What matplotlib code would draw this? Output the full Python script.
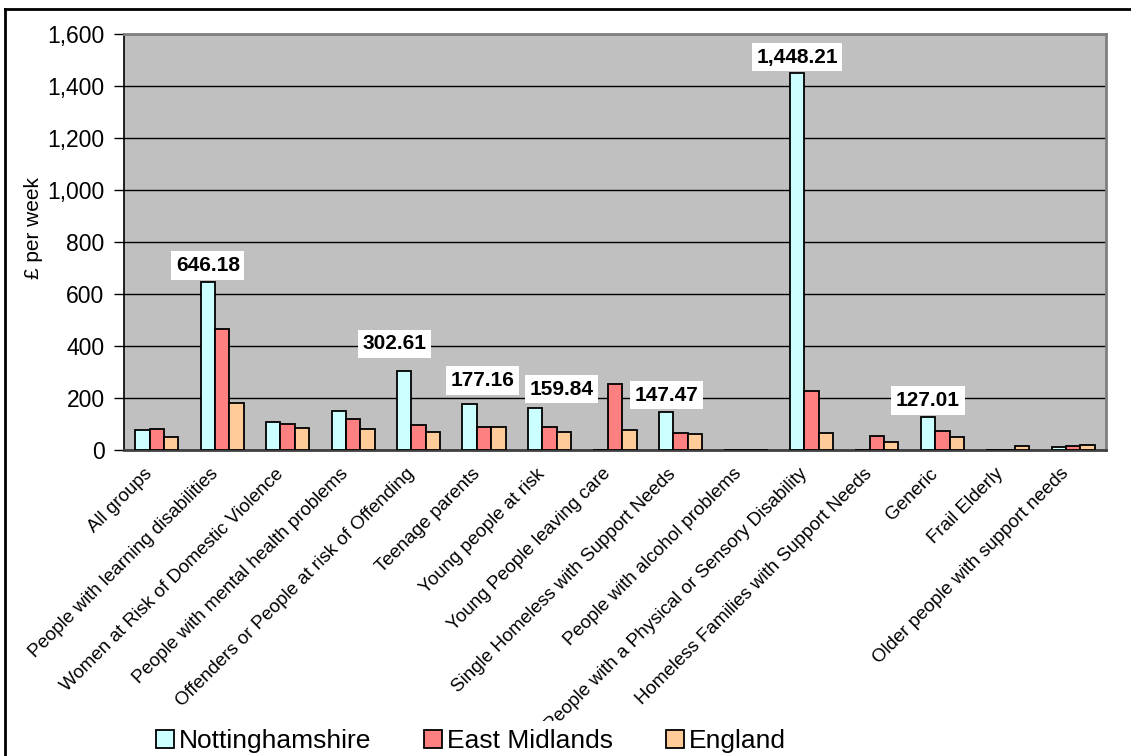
import numpy as np
import matplotlib
matplotlib.use("Agg")
import matplotlib.pyplot as plt
from matplotlib.patches import Patch
from matplotlib.lines import Line2D
import matplotlib.transforms as mtransforms

plt.rcParams['font.family'] = ['Liberation Sans', 'DejaVu Sans']

# weekly cost per client group (GBP)
groups = [
    "All groups",
    "People with learning disabilities",
    "Women at Risk of Domestic Violence",
    "People with mental health problems",
    "Offenders or People at risk of Offending",
    "Teenage parents",
    "Young people at risk",
    "Young People leaving care",
    "Single Homeless with Support Needs",
    "People with alcohol problems",
    "People with a Physical or Sensory Disability",
    "Homeless Families with Support Needs",
    "Generic",
    "Frail Elderly",
    "Older people with support needs",
]
nottinghamshire = [76, 646.18, 106, 151, 302.61, 177.16, 159.84, 0, 147.47, 0, 1448.21, 0, 127.01, 0, 13]
east_midlands = [80, 464, 101, 120, 95, 87, 87, 255, 67, 0, 226, 55, 74, 0, 17]
england = [50, 181, 86, 80, 68, 87, 70, 76, 62, 0, 65, 31, 50, 17, 19]

# Nottinghamshire bars that carry a value label
labelled = [1, 4, 5, 6, 8, 10, 12]

series_names = ["Nottinghamshire", "East Midlands", "England"]
colors = ["#CCFFFF", "#FF8080", "#FFCC99"]

# hand-placed label nudges (points)
nudge = {4: (-7, 8), 5: (9, 5), 6: (19, 2)}

W, H = 1131, 756
fig = plt.figure(figsize=(W / 100, H / 100), dpi=100)
ax = fig.add_axes([124 / W, 1 - 450 / H, (1106 - 124) / W, (450 - 34) / H])
ax.set_facecolor("#C0C0C0")

x = np.arange(len(groups))
bw = 0.22
for k, (vals, c) in enumerate(zip([nottinghamshire, east_midlands, england], colors)):
    ax.bar(x + (k - 1) * bw, vals, width=bw, color=c, edgecolor="black",
           linewidth=1.3, zorder=3)

for i in labelled:
    dx, dy = nudge.get(i, (0, 0))
    v = nottinghamshire[i]
    ax.annotate(f"{v:,.2f}", xy=(x[i] - bw, v), xytext=(dx, 5 + dy),
                textcoords="offset points", ha="center", va="bottom",
                fontsize=15, fontweight="bold", zorder=5,
                bbox=dict(boxstyle="square,pad=0.22", fc="white", ec="none"))

ax.set_xlim(-0.5, len(groups) - 0.5)
ax.set_ylim(0, 1600)
ax.set_yticks(np.arange(0, 1601, 200))
ax.yaxis.set_major_formatter(matplotlib.ticker.StrMethodFormatter("{x:,.0f}"))
ax.grid(axis="y", color="black", linewidth=1, zorder=1)
ax.tick_params(axis="y", length=7, width=1, direction="out", pad=7, labelsize=16.5)
ax.tick_params(axis="x", length=0, pad=11)

ax.set_xticks(x)
ax.set_xticklabels(groups, rotation=45, ha="right", rotation_mode="anchor", fontsize=13.5)
shift = mtransforms.ScaledTranslation(-13 / 100, 0, fig.dpi_scale_trans)
for lab in ax.get_xticklabels():
    lab.set_transform(lab.get_transform() + shift)

ax.set_ylabel("£ per week", fontsize=15)
ax.yaxis.set_label_coords((43 - 124) / (1106 - 124), (450 - 228) / (450 - 34))

for side in ["top", "right"]:
    ax.spines[side].set_color("#808080")
    ax.spines[side].set_linewidth(2)
ax.spines["left"].set_color("black")
ax.spines["left"].set_linewidth(1.2)
ax.spines["bottom"].set_color("#404040")
ax.spines["bottom"].set_linewidth(2)

handles = [Patch(facecolor=c, edgecolor="black", linewidth=1.3) for c in colors]
leg = fig.legend(handles, series_names, ncol=3, loc="center",
                 bbox_to_anchor=(471 / W, 1 - 741 / H), fontsize=19,
                 frameon=True, facecolor="white", edgecolor="none", framealpha=1,
                 handlelength=0.68, handleheight=0.68, handletextpad=0.2,
                 columnspacing=2.0, borderpad=0.3)
leg.set_zorder(10)

# outer frame: left and top edges only
fig.add_artist(Line2D([4.5 / W, 4.5 / W], [0, 1 - 9 / H], transform=fig.transFigure,
                      color="black", linewidth=2))
fig.add_artist(Line2D([4.5 / W, 1], [1 - 9 / H, 1 - 9 / H], transform=fig.transFigure,
                      color="black", linewidth=2))

fig.savefig("out.png", dpi=100, facecolor="white")
